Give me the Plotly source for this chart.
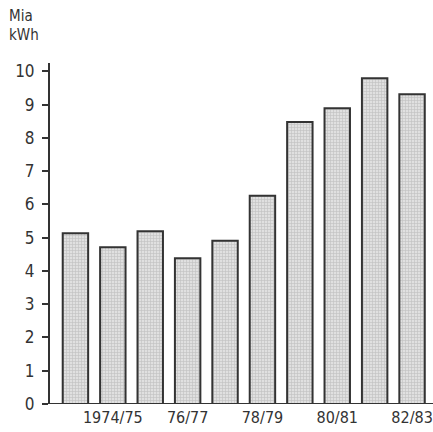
import plotly.graph_objects as go

years = ["1973/74", "1974/75", "1975/76", "76/77", "1977/78", "78/79", "1979/80", "80/81", "1981/82", "82/83"]
values = [5.13, 4.71, 5.19, 4.38, 4.91, 6.26, 8.48, 8.89, 9.79, 9.31]
tick_text = ["", "1974/75", "", "76/77", "", "78/79", "", "80/81", "", "82/83"]
y_ticks = [0, 1, 2, 3, 4, 5, 6, 7, 8, 9, 10]
unit_lines = ["Mia", "kWh"]

ink = "#333333"
font = "DejaVu Sans Condensed"

fig = go.Figure(go.Bar(
    x=list(range(len(values))),
    y=values,
    width=0.68,
    marker=dict(
        color="#d4d4d4",
        line=dict(color=ink, width=2),
        pattern=dict(shape="+", size=3, solidity=0.35, fgcolor="#a0a0a0", bgcolor="#e0e0e0"),
    ),
    hoverinfo="skip",
))

fig.update_layout(
    width=433, height=432,
    margin=dict(l=50, r=0, t=63, b=28),
    paper_bgcolor="white", plot_bgcolor="white",
    showlegend=False,
    font=dict(family=font, color=ink, size=16),
    bargap=0.32,
)
fig.update_xaxes(
    range=[-0.68, 9.56],
    tickmode="array", tickvals=list(range(len(values))), ticktext=tick_text,
    ticks="", showline=False, showgrid=False, zeroline=False, ticklabelstandoff=2,
    tickfont=dict(family=font, size=16, color=ink),
)
fig.update_yaxes(
    range=[0, 10.25],
    tickmode="array", tickvals=y_ticks, ticktext=[str(v) for v in y_ticks],
    ticks="outside", ticklen=6, tickwidth=2, tickcolor=ink,
    showline=True, linecolor=ink, linewidth=2,
    showgrid=False, zeroline=False, ticklabelstandoff=4,
    tickfont=dict(family=font, size=17, color=ink),
)
fig.add_shape(type="line", xref="paper", yref="y", x0=-0.016, x1=1, y0=0, y1=0,
              line=dict(color=ink, width=2))
fig.add_annotation(text=unit_lines[0], xref="paper", yref="paper", x=-0.112, y=1.17,
                   xanchor="left", yanchor="top", showarrow=False,
                   font=dict(family=font, size=15, color=ink))
fig.add_annotation(text=unit_lines[1], xref="paper", yref="paper", x=-0.112, y=1.114,
                   xanchor="left", yanchor="top", showarrow=False,
                   font=dict(family=font, size=15, color=ink))

fig.write_html("out.html", config={"displayModeBar": False, "staticPlot": True},
               post_script="document.body.style.margin='0';document.body.style.overflow='hidden';")
